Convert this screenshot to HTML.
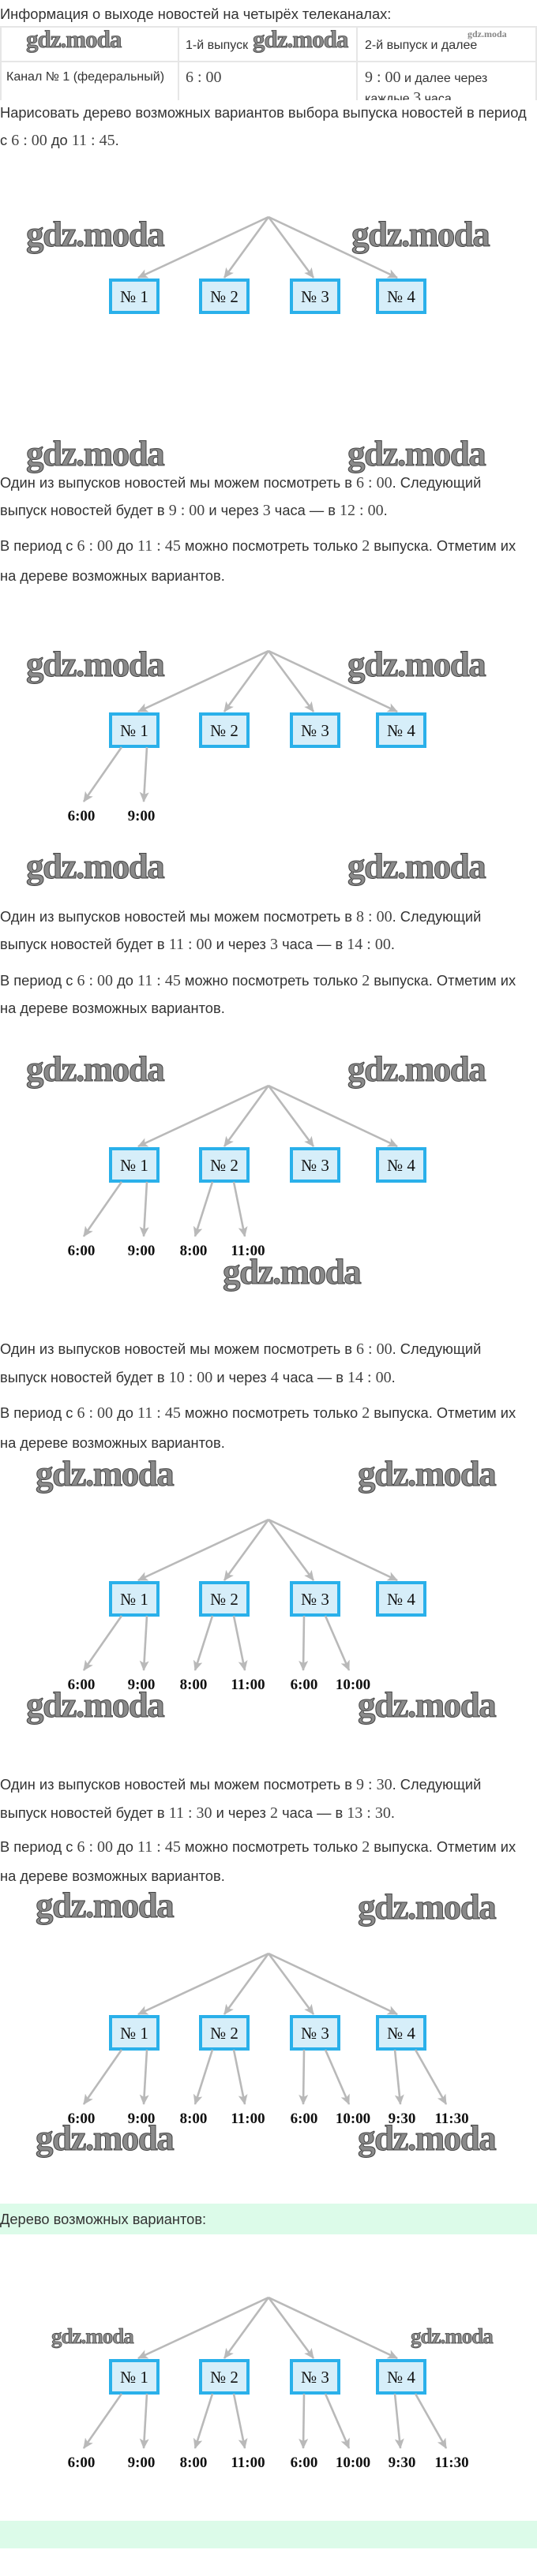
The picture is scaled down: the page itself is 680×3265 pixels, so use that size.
<!DOCTYPE html>
<html><head><meta charset="utf-8">
<style>
html,body{margin:0;padding:0;background:#fff;}
body{width:680px;height:3265px;position:relative;overflow:hidden;font-family:"Liberation Sans","DejaVu Sans",sans-serif;color:#333;}
.t{position:absolute;left:0;white-space:nowrap;font-size:18.3px;line-height:22px;height:22px;}
.tb{font-size:16px;}
.m{font-family:"Liberation Serif",serif;font-size:20px;color:#444;}
svg{position:absolute;left:0;top:0;}
</style></head><body>
<svg width="680" height="3265" viewBox="0 0 680 3265">
<defs>
<marker id="ah" markerWidth="14" markerHeight="12" refX="12" refY="6" orient="auto" markerUnits="userSpaceOnUse">
<path d="M0,0 L13,6 L0,12 L3,6 Z" fill="#b9b9b9"/>
</marker>
<g id="top">
<g stroke="#b9b9b9" stroke-width="2.6" fill="none" marker-end="url(#ah)">
<line x1="340" y1="275" x2="175" y2="352"/>
<line x1="340" y1="275" x2="284" y2="352"/>
<line x1="340" y1="275" x2="397" y2="352"/>
<line x1="340" y1="275" x2="503" y2="352"/>
</g>
<g fill="#d6eef9" stroke="#2ab0ea" stroke-width="4">
<rect x="140" y="355" width="60" height="41"/>
<rect x="254" y="355" width="60" height="41"/>
<rect x="369" y="355" width="60" height="41"/>
<rect x="478" y="355" width="60" height="41"/>
</g>
<g font-family="Liberation Serif,serif" font-size="21" fill="#111" text-anchor="middle">
<text x="170" y="383">№ 1</text><text x="284" y="383">№ 2</text><text x="399" y="383">№ 3</text><text x="508" y="383">№ 4</text>
</g>
</g>
<g id="l1"><g stroke="#b9b9b9" stroke-width="2.6" marker-end="url(#ah)"><line x1="154" y1="397" x2="106" y2="466"/><line x1="186" y1="397" x2="182" y2="466"/></g>
<g font-family="Liberation Serif,serif" font-weight="bold" font-size="19" fill="#111" text-anchor="middle"><text x="103" y="490">6:00</text><text x="179" y="490">9:00</text></g></g>
<g id="l2"><g stroke="#b9b9b9" stroke-width="2.6" marker-end="url(#ah)"><line x1="269" y1="397" x2="247" y2="466"/><line x1="296" y1="397" x2="310" y2="466"/></g>
<g font-family="Liberation Serif,serif" font-weight="bold" font-size="19" fill="#111" text-anchor="middle"><text x="245" y="490">8:00</text><text x="314" y="490">11:00</text></g></g>
<g id="l3"><g stroke="#b9b9b9" stroke-width="2.6" marker-end="url(#ah)"><line x1="385" y1="397" x2="384" y2="466"/><line x1="412" y1="397" x2="442" y2="466"/></g>
<g font-family="Liberation Serif,serif" font-weight="bold" font-size="19" fill="#111" text-anchor="middle"><text x="385" y="490">6:00</text><text x="447" y="490">10:00</text></g></g>
<g id="l4"><g stroke="#b9b9b9" stroke-width="2.6" marker-end="url(#ah)"><line x1="500" y1="397" x2="507" y2="466"/><line x1="526" y1="397" x2="565" y2="466"/></g>
<g font-family="Liberation Serif,serif" font-weight="bold" font-size="19" fill="#111" text-anchor="middle"><text x="509" y="490">9:30</text><text x="572" y="490">11:30</text></g></g>
</defs>

<g stroke="#e6e6e6" stroke-width="2" fill="none">
<line x1="0" y1="34" x2="680" y2="34"/><line x1="0" y1="78" x2="680" y2="78"/>
<line x1="226" y1="34" x2="226" y2="127"/><line x1="452" y1="34" x2="452" y2="127"/>
<line x1="1" y1="34" x2="1" y2="127"/><line x1="679" y1="34" x2="679" y2="127"/>
</g>

<use href="#top"/>
<g transform="translate(0,550)"><use href="#top"/><use href="#l1"/></g>
<g transform="translate(0,1101)"><use href="#top"/><use href="#l1"/><use href="#l2"/></g>
<g transform="translate(0,1651)"><use href="#top"/><use href="#l1"/><use href="#l2"/><use href="#l3"/></g>
<g transform="translate(0,2201)"><use href="#top"/><use href="#l1"/><use href="#l2"/><use href="#l3"/><use href="#l4"/></g>
<rect x="0" y="2793" width="680" height="39" fill="#dcfbe9"/>
<rect x="0" y="3195" width="680" height="35" fill="#dcfbe9"/>
<g transform="translate(0,2637)"><use href="#top"/><use href="#l1"/><use href="#l2"/><use href="#l3"/><use href="#l4"/></g>

<g font-family="Liberation Serif,serif" font-weight="bold" font-size="45" fill="#8a8a8a" stroke="#444" stroke-width="1" letter-spacing="-1.5">
<text x="33" y="312">gdz.moda</text><text x="445" y="312">gdz.moda</text>
<text x="33" y="590">gdz.moda</text><text x="440" y="590">gdz.moda</text>
<text x="33" y="857">gdz.moda</text><text x="440" y="857">gdz.moda</text>
<text x="33" y="1113">gdz.moda</text><text x="440" y="1113">gdz.moda</text>
<text x="33" y="1370">gdz.moda</text><text x="440" y="1370">gdz.moda</text>
<text x="282" y="1627">gdz.moda</text>
<text x="45" y="1883">gdz.moda</text><text x="453" y="1883">gdz.moda</text>
<text x="33" y="2176">gdz.moda</text><text x="453" y="2176">gdz.moda</text>
<text x="45" y="2430">gdz.moda</text><text x="453" y="2432">gdz.moda</text>
<text x="45" y="2725">gdz.moda</text><text x="453" y="2725">gdz.moda</text>
</g>
<g font-family="Liberation Serif,serif" font-weight="bold" font-size="31" fill="#8a8a8a" stroke="#444" stroke-width="0.8" letter-spacing="-1">
<text x="33" y="60">gdz.moda</text><text x="320" y="60">gdz.moda</text>
</g>
<g font-family="Liberation Serif,serif" font-weight="bold" font-size="27" fill="#8a8a8a" stroke="#444" stroke-width="0.7" letter-spacing="-1">
<text x="65" y="2970">gdz.moda</text><text x="520" y="2970">gdz.moda</text>
</g>
<text x="592" y="47" font-family="Liberation Serif,serif" font-weight="bold" font-size="12" fill="#888">gdz.moda</text>
</svg>

<div class="t" style="top:7px">Информация о выходе новостей на четырёх телеканалах:</div>
<div class="t tb" style="top:47px;left:235px">1-й выпуск</div>
<div class="t tb" style="top:47px;left:462px">2-й выпуск и далее</div>
<div class="t tb" style="top:87px;left:8px">Канал № 1 (федеральный)</div>
<div class="t tb" style="top:87px;left:235px"><span class="m">6 : 00</span></div>
<div class="t tb" style="top:87px;left:462px"><span class="m">9 : 00</span> и далее через</div>
<div style="position:absolute;top:113px;left:462px;height:14px;overflow:hidden;font-size:16px;line-height:22px;white-space:nowrap">каждые <span class="m">3</span> часа</div>

<div class="t" style="top:132px">Нарисовать дерево возможных вариантов выбора выпуска новостей в период</div>
<div class="t" style="top:167px">с <span class="m">6 : 00</span> до <span class="m">11 : 45</span>.</div>

<div class="t" style="top:601px">Один из выпусков новостей мы можем посмотреть в <span class="m">6 : 00</span>. Следующий</div>
<div class="t" style="top:636px">выпуск новостей будет в <span class="m">9 : 00</span> и через <span class="m">3</span> часа — в <span class="m">12 : 00</span>.</div>
<div class="t" style="top:681px">В период с <span class="m">6 : 00</span> до <span class="m">11 : 45</span> можно посмотреть только <span class="m">2</span> выпуска. Отметим их</div>
<div class="t" style="top:719px">на дереве возможных вариантов.</div>

<div class="t" style="top:1151px">Один из выпусков новостей мы можем посмотреть в <span class="m">8 : 00</span>. Следующий</div>
<div class="t" style="top:1186px">выпуск новостей будет в <span class="m">11 : 00</span> и через <span class="m">3</span> часа — в <span class="m">14 : 00</span>.</div>
<div class="t" style="top:1232px">В период с <span class="m">6 : 00</span> до <span class="m">11 : 45</span> можно посмотреть только <span class="m">2</span> выпуска. Отметим их</div>
<div class="t" style="top:1267px">на дереве возможных вариантов.</div>

<div class="t" style="top:1699px">Один из выпусков новостей мы можем посмотреть в <span class="m">6 : 00</span>. Следующий</div>
<div class="t" style="top:1735px">выпуск новостей будет в <span class="m">10 : 00</span> и через <span class="m">4</span> часа — в <span class="m">14 : 00</span>.</div>
<div class="t" style="top:1780px">В период с <span class="m">6 : 00</span> до <span class="m">11 : 45</span> можно посмотреть только <span class="m">2</span> выпуска. Отметим их</div>
<div class="t" style="top:1818px">на дереве возможных вариантов.</div>

<div class="t" style="top:2251px">Один из выпусков новостей мы можем посмотреть в <span class="m">9 : 30</span>. Следующий</div>
<div class="t" style="top:2287px">выпуск новостей будет в <span class="m">11 : 30</span> и через <span class="m">2</span> часа — в <span class="m">13 : 30</span>.</div>
<div class="t" style="top:2330px">В период с <span class="m">6 : 00</span> до <span class="m">11 : 45</span> можно посмотреть только <span class="m">2</span> выпуска. Отметим их</div>
<div class="t" style="top:2367px">на дереве возможных вариантов.</div>

<div class="t" style="top:2802px">Дерево возможных вариантов:</div>
</body></html>
